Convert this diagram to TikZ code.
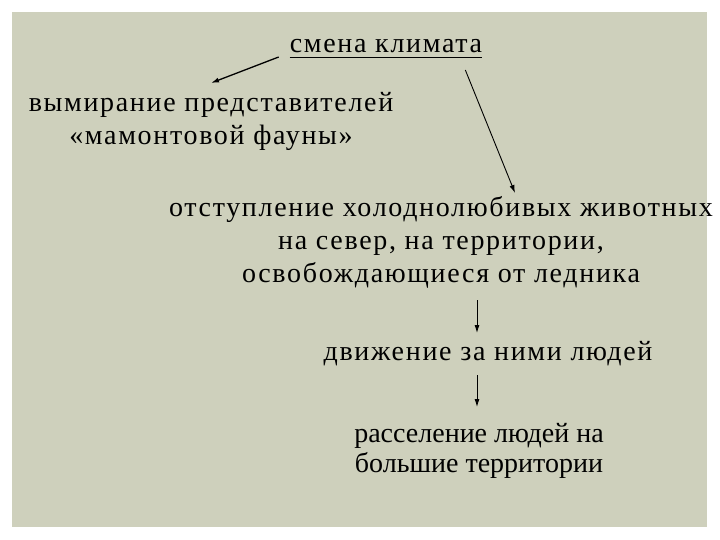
\documentclass[tikz,border=0pt]{standalone}
\usepackage{fontspec}
\setmainfont{Liberation Serif}
\newfontfamily\spacedfont[LetterSpace=6]{Liberation Serif}
\usetikzlibrary{calc,arrows.meta}
\definecolor{panelgreen}{RGB}{206,208,188}
\tikzset{
  widetext/.style={font=\spacedfont\fontsize{28}{33}\selectfont, align=center, inner sep=0pt, anchor=base},
  plaintext/.style={font=\fontsize{28}{30}\selectfont, align=center, inner sep=0pt, anchor=base},
  flow/.style={-{Latex[length=8pt,width=5pt]}, line width=0.9pt},
}

\begin{document}
\begin{tikzpicture}[x=1pt,y=-1pt]
			%%%%% START %%%%%
			
			\useasboundingbox (0,0) rectangle (720,540);
			\fill[white] (0,0) rectangle (720,540);
			\fill[panelgreen] (12,12) rectangle (707,527);
			
			% base anchor = baseline of the last line
			\node[widetext] (klimat) at (386,53) {смена климата};
			\draw[line width=1.6pt] ($(klimat.base west)+(0,4.5)$) -- ($(klimat.base east)+(0,4.5)$);
			
			\node[widetext] (vymir) at (211,145) {вымирание представителей\\«мамонтовой фауны»};
			\node[widetext] (otstup) at (441,282) {отступление холоднолюбивых животных\\на север, на территории,\\освобождающиеся от ледника};
			\node[widetext] (dvizh) at (488,360) {движение за ними людей};
			\node[plaintext] (rassel) at (479,472) {расселение людей на\\большие территории};
			
			\draw[flow, line width=1.3pt] ($(klimat.base west)+(-11,4)$) -- ($(vymir.base)+(0,-62)$);
			\draw[flow] ($(klimat.base east)+(-17,17)$) -- ($(otstup.base)+(74,-89)$);
			\draw[flow] ($(otstup.base)+(36,18)$) -- ($(dvizh.base)+(-11,-27)$);
			\draw[flow] ($(dvizh.base)+(-11,15)$) -- ($(rassel.base)+(-2,-65)$);
			
			%%%%% END %%%%%
\end{tikzpicture}
\end{document}
